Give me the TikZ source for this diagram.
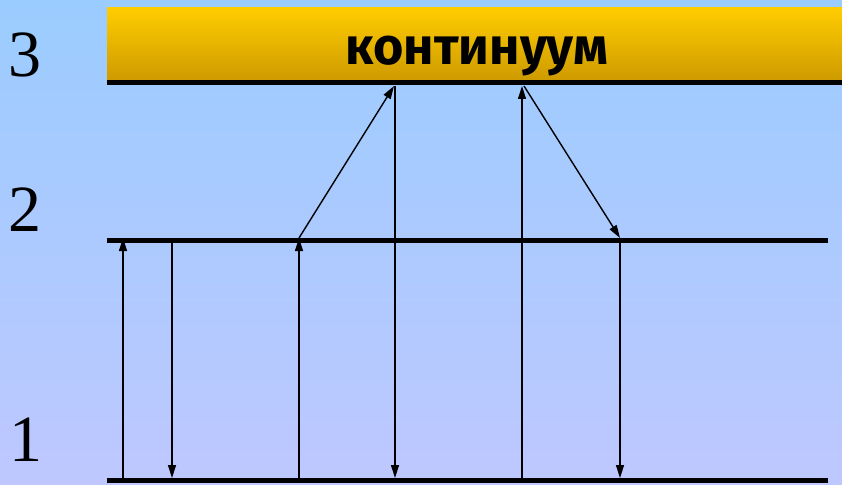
\documentclass[tikz,border=0pt]{standalone}
\usepackage{fontspec}
\setmainfont{Liberation Serif}
\newfontfamily\contfont{Fira Sans}
\usetikzlibrary{arrows.meta}

\definecolor{skytop}{RGB}{155,204,255}
\definecolor{skybot}{RGB}{190,200,255}
\definecolor{goldtop}{RGB}{255,204,0}
\definecolor{goldbot}{RGB}{204,153,0}

\tikzset{
  level/.style={line width=5pt},
  trans/.style={line width=1.4pt,-{Triangle[length=13pt,width=8pt]}},
  levnum/.style={font=\fontsize{66}{66}\selectfont,anchor=base}
}

\begin{document}
\begin{tikzpicture}[x=1pt,y=-1pt]
  \useasboundingbox (0,0) rectangle (842,484);
  \shade[top color=skytop,bottom color=skybot] (0,0) rectangle (842,484);
  \shade[top color=goldtop,bottom color=goldbot] (107,8) rectangle (842,83);
  % levels
  \draw[level] (107,83) -- (842,83);
  \draw[level] (107,240) -- (828,240);
  \draw[level] (107,480) -- (828,480);
  \node[levnum] (n3) at (25,77) {3};
  \node[levnum] (n2) at (25,231) {2};
  \node[levnum] (n1) at (26,461) {1};
  \node[font=\contfont\bfseries\fontsize{52}{52}\selectfont,anchor=base] (cont) at (477,65) {континуум};
  % end points on the levels
  \foreach \x/\n in {123/a, 172/b, 299/c, 395/d, 522/e, 620/f} {
    \coordinate (\n1) at (\x,478);
    \coordinate (\n2) at (\x,238);
  }
  \coordinate (c3) at (394,86);
  \coordinate (d3) at (395,86);
  \coordinate (e3) at (522,86);
  \coordinate (g3) at (524,86);
  % transitions
  \draw[trans] (a1) -- (a2);
  \draw[trans] (b2) -- (b1);
  \draw[trans] (c1) -- (c2);
  \draw[trans] (c2) -- (c3);
  \draw[trans] (d3) -- (d1);
  \draw[trans] (e1) -- (e3);
  \draw[trans] (g3) -- (f2);
  \draw[trans] (f2) -- (f1);
\end{tikzpicture}
\end{document}
